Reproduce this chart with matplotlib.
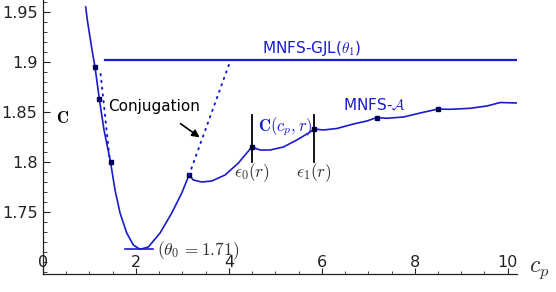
"""Cost curve C(c_p) for MNFS-A vs the MNFS-GJL(theta_1) level."""

import matplotlib

matplotlib.use("Agg")

import matplotlib.pyplot as plt
from matplotlib.ticker import FixedLocator, MultipleLocator, FormatStrFormatter

plt.rcParams["mathtext.fontset"] = "cm"

# main MNFS-A curve
cp_vals = [0.919, 0.954, 0.997, 1.055, 1.119, 1.212, 1.313, 1.453, 1.550,
           1.658, 1.802, 1.944, 2.088, 2.267, 2.519, 2.771, 2.986, 3.143,
           3.236, 3.417, 3.632, 3.918, 4.205, 4.493, 4.672, 4.887, 5.173,
           5.462, 5.748, 5.828, 6.034, 6.323, 6.680, 6.969, 7.184, 7.400,
           7.757, 8.116, 8.504, 8.762, 9.193, 9.552, 9.839, 10.198]
c_vals = [1.955, 1.942, 1.929, 1.912, 1.895, 1.863, 1.832, 1.800, 1.772,
          1.749, 1.729, 1.717, 1.7127, 1.715, 1.729, 1.749, 1.769, 1.787,
          1.782, 1.780, 1.781, 1.787, 1.799, 1.815, 1.812, 1.812, 1.815,
          1.822, 1.830, 1.833, 1.832, 1.8335, 1.838, 1.841, 1.8445, 1.8437,
          1.845, 1.849, 1.853, 1.8527, 1.8537, 1.856, 1.8595, 1.859]

# square markers on the curve
mark_cp = [1.119, 1.212, 1.453, 3.143, 4.493, 5.828, 7.184, 8.504]
mark_c = [1.895, 1.863, 1.800, 1.787, 1.815, 1.833, 1.8445, 1.853]

# MNFS-GJL(theta_1) level
gjl_cp = [1.335, 10.2]
gjl_c = [1.902, 1.902]

# dotted conjugation lines
conj1_cp = [1.24, 1.43]
conj1_c = [1.888, 1.805]
conj2_cp = [3.143, 4.03]
conj2_c = [1.787, 1.901]

# minimum marker and epsilon bars
theta0 = 1.7127
theta0_cp = [1.77, 2.37]
eps_cp = [4.493, 5.828]
eps_c = [1.800, 1.847]

x_major = [0, 2, 4, 6, 8, 10]
y_major = [1.75, 1.8, 1.85, 1.9, 1.95]

BLUE = "#1a1ad0"
NAVY = "#00005a"
GREY = "#333333"

fig = plt.figure(figsize=(5.56, 2.92), dpi=100)
ax = fig.add_axes([43 / 556, 18 / 292, 474 / 556, 274 / 292])

ax.plot(cp_vals, c_vals, color=BLUE, lw=1.2, solid_joinstyle="round")
ax.plot(mark_cp, mark_c, ls="none", marker="s", ms=3.2, color=NAVY)
ax.plot(gjl_cp, gjl_c, color=BLUE, lw=1.6)
ax.plot(conj1_cp, conj1_c, color=BLUE, lw=1.4, ls=(0, (0.7, 2.8)),
        dash_capstyle="round")
ax.plot(conj2_cp, conj2_c, color=BLUE, lw=1.4, ls=(0, (0.7, 2.8)),
        dash_capstyle="round")
ax.plot(theta0_cp, [theta0, theta0], color=BLUE, lw=1.2)
for xe in eps_cp:
    ax.plot([xe, xe], eps_c, color="black", lw=1.3)

# labels
ax.text(5.79, 1.914, r"MNFS-GJL($\theta_1$)", color=BLUE, fontsize=11,
        ha="center", va="center")
ax.text(6.45, 1.857, r"MNFS-$\mathcal{A}$", color=BLUE, fontsize=11,
        ha="left", va="center")
ax.text(4.63, 1.835, r"$\mathbf{C}(c_p,r)$", color=BLUE, fontsize=12,
        ha="left", va="center")
ax.text(4.493, 1.789, r"$\epsilon_0(r)$", color=GREY, fontsize=12.5,
        ha="center", va="center")
ax.text(5.828, 1.789, r"$\epsilon_1(r)$", color=GREY, fontsize=12.5,
        ha="center", va="center")
ax.text(2.45, 1.711, r"$(\theta_0\,=1.71)$", color=GREY, fontsize=12.5,
        ha="left", va="center")
ax.text(0.43, 1.844, r"$\mathbf{C}$", color="black", fontsize=12,
        ha="center", va="center")
ax.text(1.40, 1.855, "Conjugation", color="black", fontsize=11,
        ha="left", va="center")
ax.annotate("", xy=(3.42, 1.823), xytext=(2.91, 1.840),
            arrowprops=dict(arrowstyle="-|>", color="black", lw=1.2,
                            mutation_scale=11))
ax.text(10.45, 1.693, r"$c_p$", color=GREY, fontsize=17,
        ha="left", va="center", clip_on=False)

# axes in Mathematica style
ax.set_xlim(0, 10.2)
ax.set_ylim(1.688, 1.962)
for side in ("top", "right"):
    ax.spines[side].set_visible(False)
for side in ("left", "bottom"):
    ax.spines[side].set_color("#222222")
    ax.spines[side].set_linewidth(0.9)

ax.xaxis.set_major_locator(FixedLocator(x_major))
ax.xaxis.set_minor_locator(MultipleLocator(0.5))
ax.yaxis.set_major_locator(FixedLocator(y_major))
ax.yaxis.set_minor_locator(MultipleLocator(0.01))
ax.yaxis.set_major_formatter(FormatStrFormatter("%g"))

ax.tick_params(axis="x", which="both", direction="in", labelsize=11.5,
               colors="#222222", pad=-14)
ax.tick_params(axis="x", which="major", length=4, width=0.8)
ax.tick_params(axis="x", which="minor", length=2.5, width=0.6)
ax.tick_params(axis="y", which="both", direction="in", labelsize=11.5,
               colors="#222222", pad=4)
ax.tick_params(axis="y", which="major", length=5, width=0.8)
ax.tick_params(axis="y", which="minor", length=3, width=0.6)

fig.savefig("out.png", dpi=100)
plt.close(fig)
